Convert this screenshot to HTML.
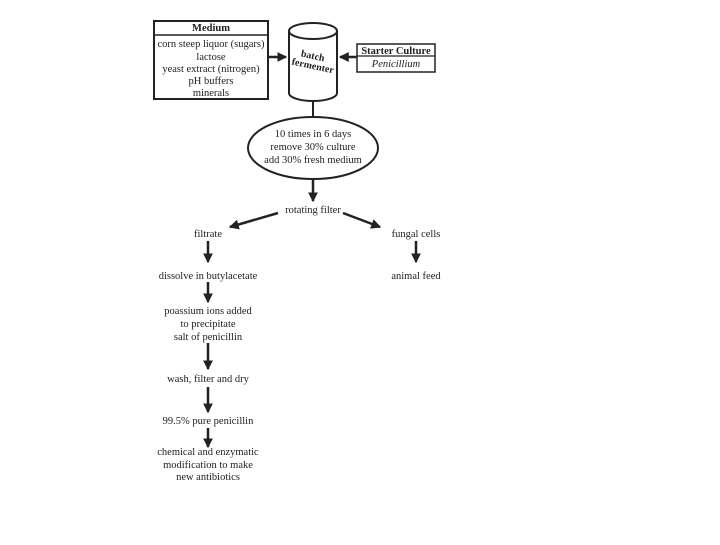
<!DOCTYPE html>
<html><head><style>
body{margin:0;background:#fff;}
svg text{font-family:"Liberation Serif",serif;font-size:10.5px;fill:#222;text-anchor:middle;}
</style></head><body>
<svg width="720" height="540" viewBox="0 0 720 540" xmlns="http://www.w3.org/2000/svg">
<defs><marker id="a" markerWidth="4" markerHeight="4" refX="3.5" refY="2" orient="auto" markerUnits="strokeWidth"><path d="M0,0L4,2L0,4z" fill="#222"/></marker></defs>
<g stroke="#222" fill="none" stroke-width="2">
<rect x="154" y="21" width="114" height="78"/>
<line x1="154" y1="35" x2="268" y2="35" stroke-width="1.5"/>
<rect x="357" y="44" width="78" height="28" stroke-width="1.5"/>
<line x1="357" y1="56" x2="435" y2="56" stroke-width="1.2"/>
<path d="M289,31 L289,93 A24,8 0 0 0 337,93 L337,31"/>
<ellipse cx="313" cy="31" rx="24" ry="8"/>
<line x1="268" y1="57" x2="286" y2="57" stroke-width="2.5" marker-end="url(#a)"/>
<line x1="357" y1="57" x2="340" y2="57" stroke-width="2.5" marker-end="url(#a)"/>
<line x1="313" y1="101" x2="313" y2="117"/>
<ellipse cx="313" cy="148" rx="65" ry="31"/>
<g stroke-width="2.5" marker-end="url(#a)">
<line x1="313" y1="180" x2="313" y2="201"/>
<line x1="278" y1="213" x2="230" y2="227"/>
<line x1="343" y1="213" x2="380" y2="227"/>
<line x1="208" y1="241" x2="208" y2="262"/>
<line x1="416" y1="241" x2="416" y2="262"/>
<line x1="208" y1="282" x2="208" y2="302"/>
<line x1="208" y1="343" x2="208" y2="369"/>
<line x1="208" y1="387" x2="208" y2="412"/>
<line x1="208" y1="428" x2="208" y2="447"/>
</g>
</g>
<text x="211" y="31" font-weight="bold" style="font-weight:bold">Medium</text>
<text x="211" y="47">corn steep liquor (sugars)</text>
<text x="211" y="60">lactose</text>
<text x="211" y="72">yeast extract (nitrogen)</text>
<text x="211" y="84">pH buffers</text>
<text x="211" y="96">minerals</text>
<text x="396" y="54" style="font-weight:bold">Starter Culture</text>
<text x="396" y="67" style="font-style:italic">Penicillium</text>
<text x="313" y="59" transform="rotate(12 313 55)" style="font-size:10px;font-weight:bold">batch</text>
<text x="313" y="69" transform="rotate(12 313 65)" style="font-size:10px;font-weight:bold">fermenter</text>
<text x="313" y="137">10 times in 6 days</text>
<text x="313" y="150">remove 30% culture</text>
<text x="313" y="163">add 30% fresh medium</text>
<text x="313" y="213">rotating filter</text>
<text x="208" y="237">filtrate</text>
<text x="416" y="237">fungal cells</text>
<text x="208" y="279">dissolve in butylacetate</text>
<text x="416" y="279">animal feed</text>
<text x="208" y="314">poassium ions added</text>
<text x="208" y="327">to precipitate</text>
<text x="208" y="340">salt of penicillin</text>
<text x="208" y="382">wash, filter and dry</text>
<text x="208" y="424">99.5% pure penicillin</text>
<text x="208" y="455">chemical and enzymatic</text>
<text x="208" y="468">modification to make</text>
<text x="208" y="480">new antibiotics</text>
</svg>
</body></html>
